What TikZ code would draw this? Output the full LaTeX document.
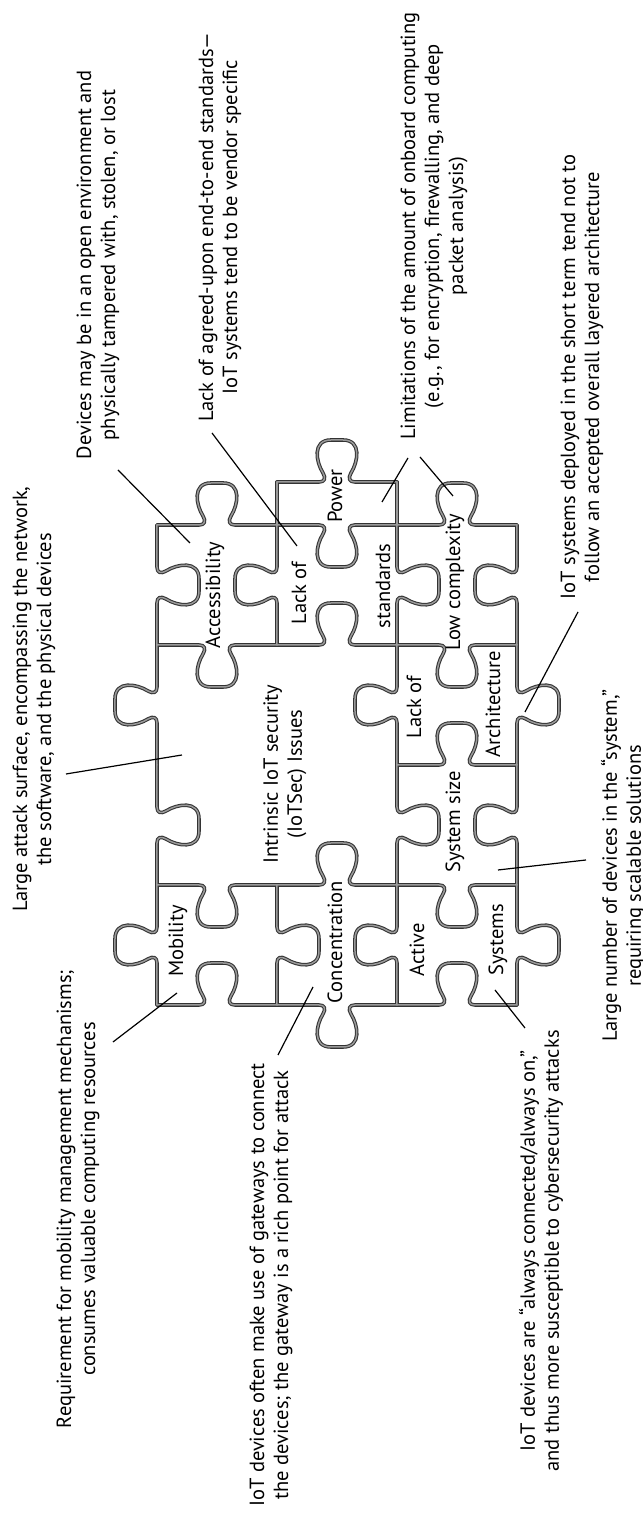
\documentclass[tikz,border=0pt]{standalone}
\usepackage{fontspec}
\setmainfont{PT Sans}

% one jigsaw edge, 120 long, tab of depth 42 (sign flips it)
\newcommand{\tabedge}[2]{%
  \draw[#1, yscale=#2] (0,0) -- (42,0) .. controls (48,0) and (49,4) .. (46,9)
    .. controls (39,20) and (35,42) .. (54,42) -- (66,42)
    .. controls (85,42) and (81,20) .. (74,9)
    .. controls (71,4) and (72,0) .. (78,0) -- (120,0);}

% all edges of the puzzle, drawn with style #1
\newcommand{\puzzle}[1]{%
  % outer top
  \tabedge{#1, shift={(509,485)}}{1}
  \tabedge{#1, shift={(629,485)}}{-1}
  \tabedge{#1, shift={(749,485)}}{1}
  \tabedge{#1, shift={(869,485)}}{-1}
  % between top and middle row
  \tabedge{#1, shift={(509,365)}}{-1}
  \tabedge{#1, shift={(869,365)}}{1}
  \draw[#1] (989,365) -- (1032,365);
  % between middle and bottom row
  \tabedge{#1, shift={(509,245)}}{1}
  \tabedge{#1, shift={(629,245)}}{-1}
  \tabedge{#1, shift={(749,245)}}{1}
  \tabedge{#1, shift={(869,245)}}{-1}
  \draw[#1] (989,245) -- (1032,245);
  % outer bottom
  \tabedge{#1, shift={(509,125)}}{-1}
  \tabedge{#1, shift={(629,125)}}{1}
  \tabedge{#1, shift={(749,125)}}{-1}
  \tabedge{#1, shift={(869,125)}}{1}
  % vertical edges
  \tabedge{#1, shift={(509,485)}, rotate=-90}{1}
  \tabedge{#1, shift={(509,365)}, rotate=-90}{-1}
  \tabedge{#1, shift={(509,245)}, rotate=-90}{1}
  \tabedge{#1, shift={(629,485)}, rotate=-90}{-1}
  \tabedge{#1, shift={(629,365)}, rotate=-90}{1}
  \tabedge{#1, shift={(629,245)}, rotate=-90}{-1}
  \tabedge{#1, shift={(749,245)}, rotate=-90}{1}
  \tabedge{#1, shift={(869,485)}, rotate=-90}{-1}
  \tabedge{#1, shift={(869,365)}, rotate=-90}{1}
  \tabedge{#1, shift={(869,245)}, rotate=-90}{-1}
  \tabedge{#1, shift={(989,485)}, rotate=-90}{1}
  \tabedge{#1, shift={(989,365)}, rotate=-90}{-1}
  \tabedge{#1, shift={(989,245)}, rotate=-90}{1}
  \tabedge{#1, shift={(1032,365)}, rotate=-90}{1}
}

\begin{document}
\begin{tikzpicture}[x=1pt, y=1pt, rotate=90, transform shape,
    rimdark/.style = {draw=black!80, line width=3.6pt, line cap=round, line join=round},
    rimlight/.style = {draw=black!40, line width=1.5pt, line cap=round, line join=round},
    leader/.style = {draw=black, line width=1.2pt},
    note/.style = {align=center, inner sep=0pt, font=\fontsize{20.5}{24}\selectfont},
    piecetext/.style = {align=center, inner sep=0pt, font=\fontsize{20.5}{24}\selectfont}
]
\useasboundingbox (0,0) rectangle (1514,642);

% Puzzle outline (dark pass, then grey core)
\puzzle{rimdark}
\puzzle{rimlight}

% Piece labels
\node (mob) [piecetext] at (573,464) {Mobility};
\node (core) [piecetext] at (740,357) {Intrinsic IoT security\\(IoTSec) Issues};
\node (acc) [piecetext] at (919,427) {Accessibility};
\node (conc) [piecetext] at (572,307) {Concentration};
\node (lackstd) [piecetext] at (921,343) {Lack of};
\node (std) [piecetext] at (928,259) {standards};
\node (power) [piecetext] at (1018,307) {Power};
\node (act) [piecetext] at (564,225) {Active};
\node (sys) [piecetext] at (574,144) {Systems};
\node (size) [piecetext] at (692,187) {System size};
\node (lackarch) [piecetext] at (807,228) {Lack of};
\node (arch) [piecetext] at (810,149) {Architecture};
\node (lowc) [piecetext] at (932,187) {Low complexity};

% Notes round the puzzle
\node (devnote) [note] at (1249,544) {Devices may be in an open environment and\\physically tampered with, stolen, or lost};
\node (stdnote) [note] at (1287,422) {Lack of agreed-upon end-to-end standards—\\IoT systems tend to be vendor specific};
\node (pownote) [note] at (1288,208) {Limitations of the amount of onboard computing\\(e.g., for encryption, firewalling, and deep\\packet analysis)};
\node (archnote) [note] at (1137,60) {IoT systems deployed in the short term tend not to\\follow an accepted overall layered architecture};
\node (surfnote) [note, anchor=west] at (602,608) {Large attack surface, encompassing the network,\\the software, and the physical devices};
\node (mobnote) [note] at (315,564) {Requirement for mobility management mechanisms;\\consumes valuable computing resources};
\node (connote) [note] at (229,371) {IoT devices often make use of gateways to connect\\the devices; the gateway is a rich point for attack};
\node (actnote) [note] at (263,101) {IoT devices are “always connected/always on,”\\and thus more susceptible to cybersecurity attacks};
\node (sizenote) [note] at (648,19) {Large number of devices in the “system,”\\requiring scalable solutions};

% Leader ends
\coordinate (devnote-a) at (1044,524);
\coordinate (acc-tip) at (971,452);
\coordinate (stdnote-a) at (1081,430);
\coordinate (lackstd-tip) at (968,345);
\coordinate (pownote-a) at (1056,234);
\coordinate (power-tip) at (1012,260);
\coordinate (pownote-b) at (1057,222);
\coordinate (lowc-tip) at (1018,189);
\coordinate (archnote-a) at (902,64);
\coordinate (arch-tip) at (802,117);
\coordinate (surfnote-a) at (740,576);
\coordinate (core-tip) at (759,460);
\coordinate (mobnote-a) at (472,529);
\coordinate (mob-tip) at (521,465);
\coordinate (connote-a) at (459,364);
\coordinate (conc-tip) at (527,329);
\coordinate (actnote-a) at (486,117);
\coordinate (sys-tip) at (524,147);
\coordinate (sizenote-a) at (654,56);
\coordinate (size-tip) at (644,144);

\draw [leader] (devnote-a) -- (acc-tip);
\draw [leader] (stdnote-a) -- (lackstd-tip);
\draw [leader] (pownote-a) -- (power-tip);
\draw [leader] (pownote-b) -- (lowc-tip);
\draw [leader] (archnote-a) -- (arch-tip);
\draw [leader] (surfnote-a) -- (core-tip);
\draw [leader] (mobnote-a) -- (mob-tip);
\draw [leader] (connote-a) -- (conc-tip);
\draw [leader] (actnote-a) -- (sys-tip);
\draw [leader] (sizenote-a) -- (size-tip);

\end{tikzpicture}
\end{document}
